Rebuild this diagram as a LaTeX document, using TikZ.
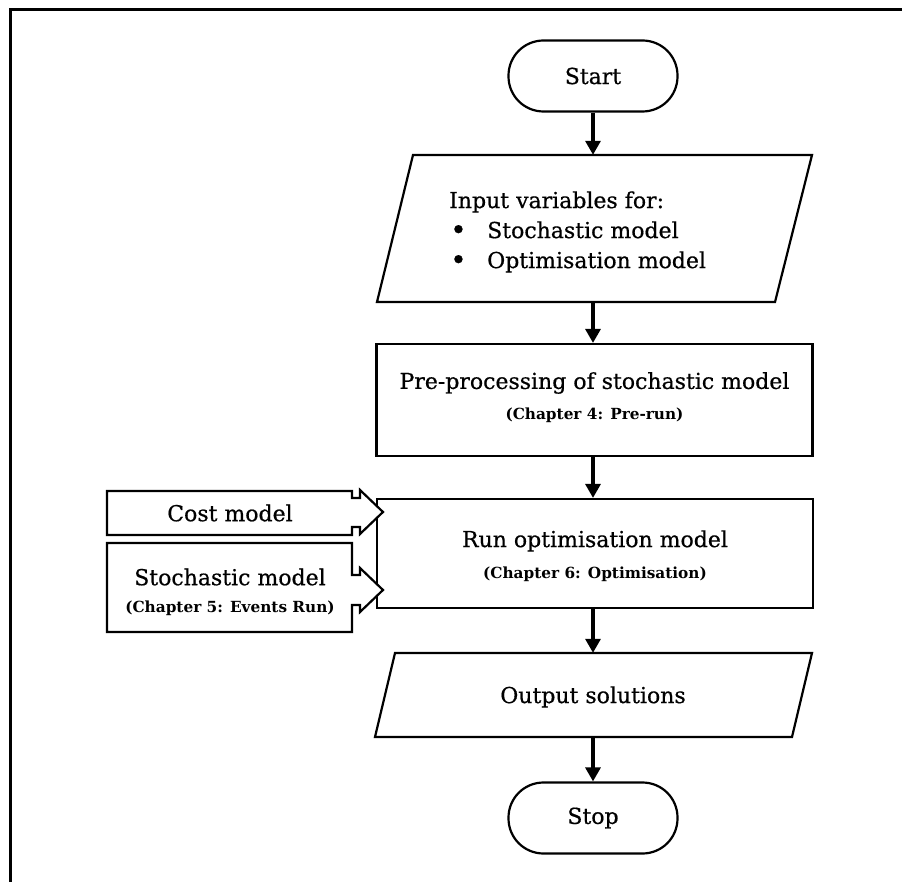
\documentclass[tikz,border=0pt]{standalone}
\usepackage{fontspec}
\setmainfont{DejaVu Serif}
\newfontfamily\heavyserif{DejaVu Serif}[FakeBold=0.6]
\usetikzlibrary{arrows.meta}
\newcommand{\bigbullet}{\raisebox{-1.5pt}{\fontsize{28}{30}\selectfont\textbullet}}
\begin{document}
\begin{tikzpicture}[x=1pt,y=-1pt,
  box/.style={draw=black,line width=2.2pt,fill=white,inner sep=0pt},
  ghost/.style={inner sep=0pt,draw=none},
  terminal/.style={box,rounded corners=35pt,minimum width=169pt,minimum height=71pt},
  procbox/.style={box,minimum width=436pt},
  maintxt/.style={font=\heavyserif\fontsize{22}{30}\selectfont,align=center,inner sep=0pt},
  subtxt/.style={font=\normalfont\fontsize{15.3}{18}\bfseries\selectfont},
  flow/.style={line width=3.2pt,-{Triangle[length=14pt,width=15pt]}},
  callout/.style={draw=black,line width=2.2pt,fill=white,line join=miter}
]
\useasboundingbox (0,0) rectangle (902,882);
\fill[white] (0,0) rectangle (902,882);

% outer frame
\draw[line width=3pt] (10,882) -- (10,10) -- (902,10);

% start
\node[terminal,maintxt] (start) at (593,76) {Start};

% input parallelogram
\node[ghost,minimum width=399pt,minimum height=147pt] (input) at (593,228.5) {};
\draw[box] (413,155) -- (812,155) -- (775,302) -- (377,302) -- cycle;
\node[maintxt,align=left,anchor=west] (inputtxt) at (449,232)
  {Input variables for:\\
   \makebox[38pt][l]{\hspace{1pt}\bigbullet}Stochastic model\\
   \makebox[38pt][l]{\hspace{1pt}\bigbullet}Optimisation model};

% pre-processing
\node[procbox,minimum height=112pt] (pre) at (594.5,400) {};
\node[maintxt] (pretxt) at (594.5,383) {Pre-processing of stochastic model};
\node[maintxt,subtxt] (presub) at (594.5,415) {(Chapter 4: Pre-run)};

% optimisation run
\node[procbox,minimum height=109pt] (run) at (595,553.5) {};
\node[maintxt] (runtxt) at (595,541) {Run optimisation model};
\node[maintxt,subtxt] (runsub) at (595,574) {(Chapter 6: Optimisation)};

% side inputs as arrow callouts
\draw[callout] (107,491) -- (352,491) -- (352,498) -- (360,498) -- (360,490)
  -- (383,512) -- (360,534) -- (360,527) -- (352,527) -- (352,535) -- (107,535) -- cycle;
\node[maintxt] (cost) at (230,513) {Cost model};

\draw[callout] (107,543) -- (352,543) -- (352,575) -- (360,575) -- (360,568)
  -- (383,590) -- (360,612) -- (360,605) -- (352,605) -- (352,632) -- (107,632) -- cycle;
\node[maintxt] (stoch) at (230,577) {Stochastic model};
\node[maintxt,subtxt] (stochsub) at (230,608) {(Chapter 5: Events Run)};

% output parallelogram
\node[ghost,minimum width=417pt,minimum height=84pt] (output) at (593,695) {};
\draw[box] (395,653) -- (812,653) -- (792,737) -- (375,737) -- cycle;
\node[maintxt] (outtxt) at (593,697) {Output solutions};

% stop
\node[terminal,maintxt] (stop) at (593,818) {Stop};

% flow
\draw[flow] (start) -- (input);
\draw[flow] (input) -- (pre.north -| input);
\draw[flow] (pre.south -| input) -- (run.north -| input);
\draw[flow] (run.south -| input) -- (output);
\draw[flow] (output) -- (stop);
\end{tikzpicture}
\end{document}
